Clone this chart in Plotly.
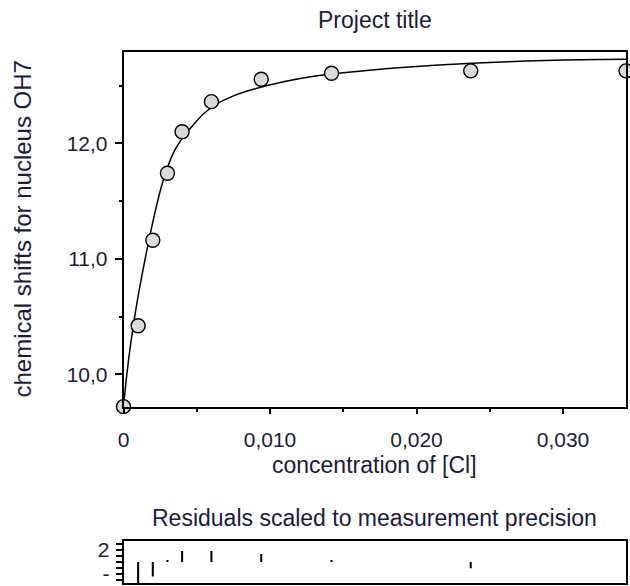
import plotly.graph_objects as go

# ---- data ----
conc = [0, 0.001, 0.002, 0.003, 0.004, 0.006, 0.0094, 0.0142, 0.0237, 0.0343]
shift_obs = [9.72, 10.42, 11.16, 11.74, 12.10, 12.36, 12.554, 12.606, 12.627, 12.627]

fit_conc = [0, 0.0002, 0.0004, 0.0007, 0.001, 0.0014, 0.0018, 0.0022, 0.0026, 0.003,
            0.0035, 0.004, 0.0047, 0.0055, 0.0065, 0.0075, 0.0085, 0.0095, 0.011,
            0.013, 0.015, 0.0175, 0.020, 0.0225, 0.025, 0.0275, 0.030, 0.0325, 0.0343]
fit_shift = [9.72, 9.97, 10.18, 10.45, 10.68, 10.95, 11.20, 11.43, 11.63, 11.79,
             11.94, 12.04, 12.15, 12.26, 12.35, 12.41, 12.455, 12.49, 12.535,
             12.58, 12.61, 12.64, 12.665, 12.685, 12.70, 12.712, 12.72, 12.725, 12.728]

residuals = [0.0, -3.6, -2.4, 0.2, 1.85, 1.85, 1.35, 0.2, -1.05, 0.0]

x_tick_vals = [0, 0.01, 0.02, 0.03]
x_tick_text = ["0", "0,010", "0,020", "0,030"]
x_minor_vals = [0.005, 0.015, 0.025]
y_tick_vals = [10, 11, 12]
y_tick_text = ["10,0", "11,0", "12,0"]
y_minor_vals = [10.5, 11.5, 12.5]
res_tick_vals = [-3, -2, -1, 0, 1, 2, 3]
res_tick_text = ["", "-", "", "", "", "2", ""]

title_text = "Project title"
x_title = "concentration of [Cl]"
y_title = "chemical shifts for nucleus OH7"
res_title = "Residuals scaled to measurement precision"

# ---- layout constants ----
W, H = 630, 586
FONT = "Liberation Sans, Arial, sans-serif"
TXT = "#1c1c38"


def px_x(p):
    return p / W


def px_y(p):
    return 1 - p / H


x_dom = [px_x(123.5), px_x(626)]
main_dom = [px_y(407), px_y(52)]
res_dom = [px_y(583.3), px_y(541)]

fig = go.Figure()

fig.add_trace(go.Scatter(
    x=fit_conc, y=fit_shift, mode="lines",
    line=dict(color="black", width=1.5, shape="spline", smoothing=0.5),
    xaxis="x", yaxis="y", hoverinfo="skip"))

fig.add_trace(go.Scatter(
    x=conc, y=shift_obs, mode="markers", cliponaxis=False,
    marker=dict(symbol="circle", size=14, color="#dadada",
                line=dict(color="black", width=1.4)),
    xaxis="x", yaxis="y"))

fig.add_trace(go.Bar(
    x=conc, y=residuals, width=0.00014,
    marker=dict(color="black", line=dict(width=0)),
    xaxis="x2", yaxis="y2"))

axis_common = dict(showline=True, mirror=True, linecolor="black", linewidth=1.5,
                   showgrid=False, zeroline=False, automargin=False,
                   tickcolor="black", tickwidth=1.5,
                   tickfont=dict(family=FONT, size=21, color=TXT))

fig.update_layout(
    width=W, height=H,
    margin=dict(l=0, r=0, t=0, b=0),
    paper_bgcolor="white", plot_bgcolor="white",
    showlegend=False,
    xaxis=dict(domain=x_dom, range=[0, 0.0343], anchor="y",
               tickmode="array", tickvals=x_tick_vals, ticktext=x_tick_text,
               ticks="outside", ticklen=5, ticklabelstandoff=8,
               minor=dict(tickmode="array", tickvals=x_minor_vals, ticks="outside",
                          ticklen=3, tickwidth=1.5, tickcolor="black"),
               **axis_common),
    yaxis=dict(domain=main_dom, range=[9.717, 12.79], anchor="x",
               tickmode="array", tickvals=y_tick_vals, ticktext=y_tick_text,
               ticks="outside", ticklen=7, ticklabelstandoff=3,
               minor=dict(tickmode="array", tickvals=y_minor_vals, ticks="outside",
                          ticklen=3, tickwidth=1.5, tickcolor="black"),
               **axis_common),
    xaxis2=dict(domain=x_dom, range=[0, 0.0343], anchor="y2",
                ticks="", showticklabels=False, **axis_common),
    yaxis2=dict(domain=res_dom, range=[-3.55, 3.5], anchor="x2",
                tickmode="array", tickvals=res_tick_vals, ticktext=res_tick_text,
                ticks="outside", ticklen=6, ticklabelstandoff=2,
                **axis_common),
    annotations=[
        dict(text=title_text, x=(x_dom[0] + x_dom[1]) / 2, y=px_y(20),
             xref="paper", yref="paper", showarrow=False,
             xanchor="center", yanchor="middle",
             font=dict(family=FONT, size=23, color=TXT)),
        dict(text=x_title, x=(x_dom[0] + x_dom[1]) / 2, y=px_y(465),
             xref="paper", yref="paper", showarrow=False,
             xanchor="center", yanchor="middle",
             font=dict(family=FONT, size=23, color=TXT)),
        dict(text=res_title, x=(x_dom[0] + x_dom[1]) / 2, y=px_y(518),
             xref="paper", yref="paper", showarrow=False,
             xanchor="center", yanchor="middle",
             font=dict(family=FONT, size=23, color=TXT)),
        dict(text=y_title, x=px_x(22), y=(main_dom[0] + main_dom[1]) / 2,
             xref="paper", yref="paper", showarrow=False, textangle=-90,
             xanchor="center", yanchor="middle",
             font=dict(family=FONT, size=24, color=TXT)),
    ],
)

# remove the default 8px page margin so the figure fills the window exactly
fig.write_html("out.html",
               config={"displayModeBar": False},
               post_script="document.body.style.margin='0';"
                           "document.body.style.overflow='hidden';")
